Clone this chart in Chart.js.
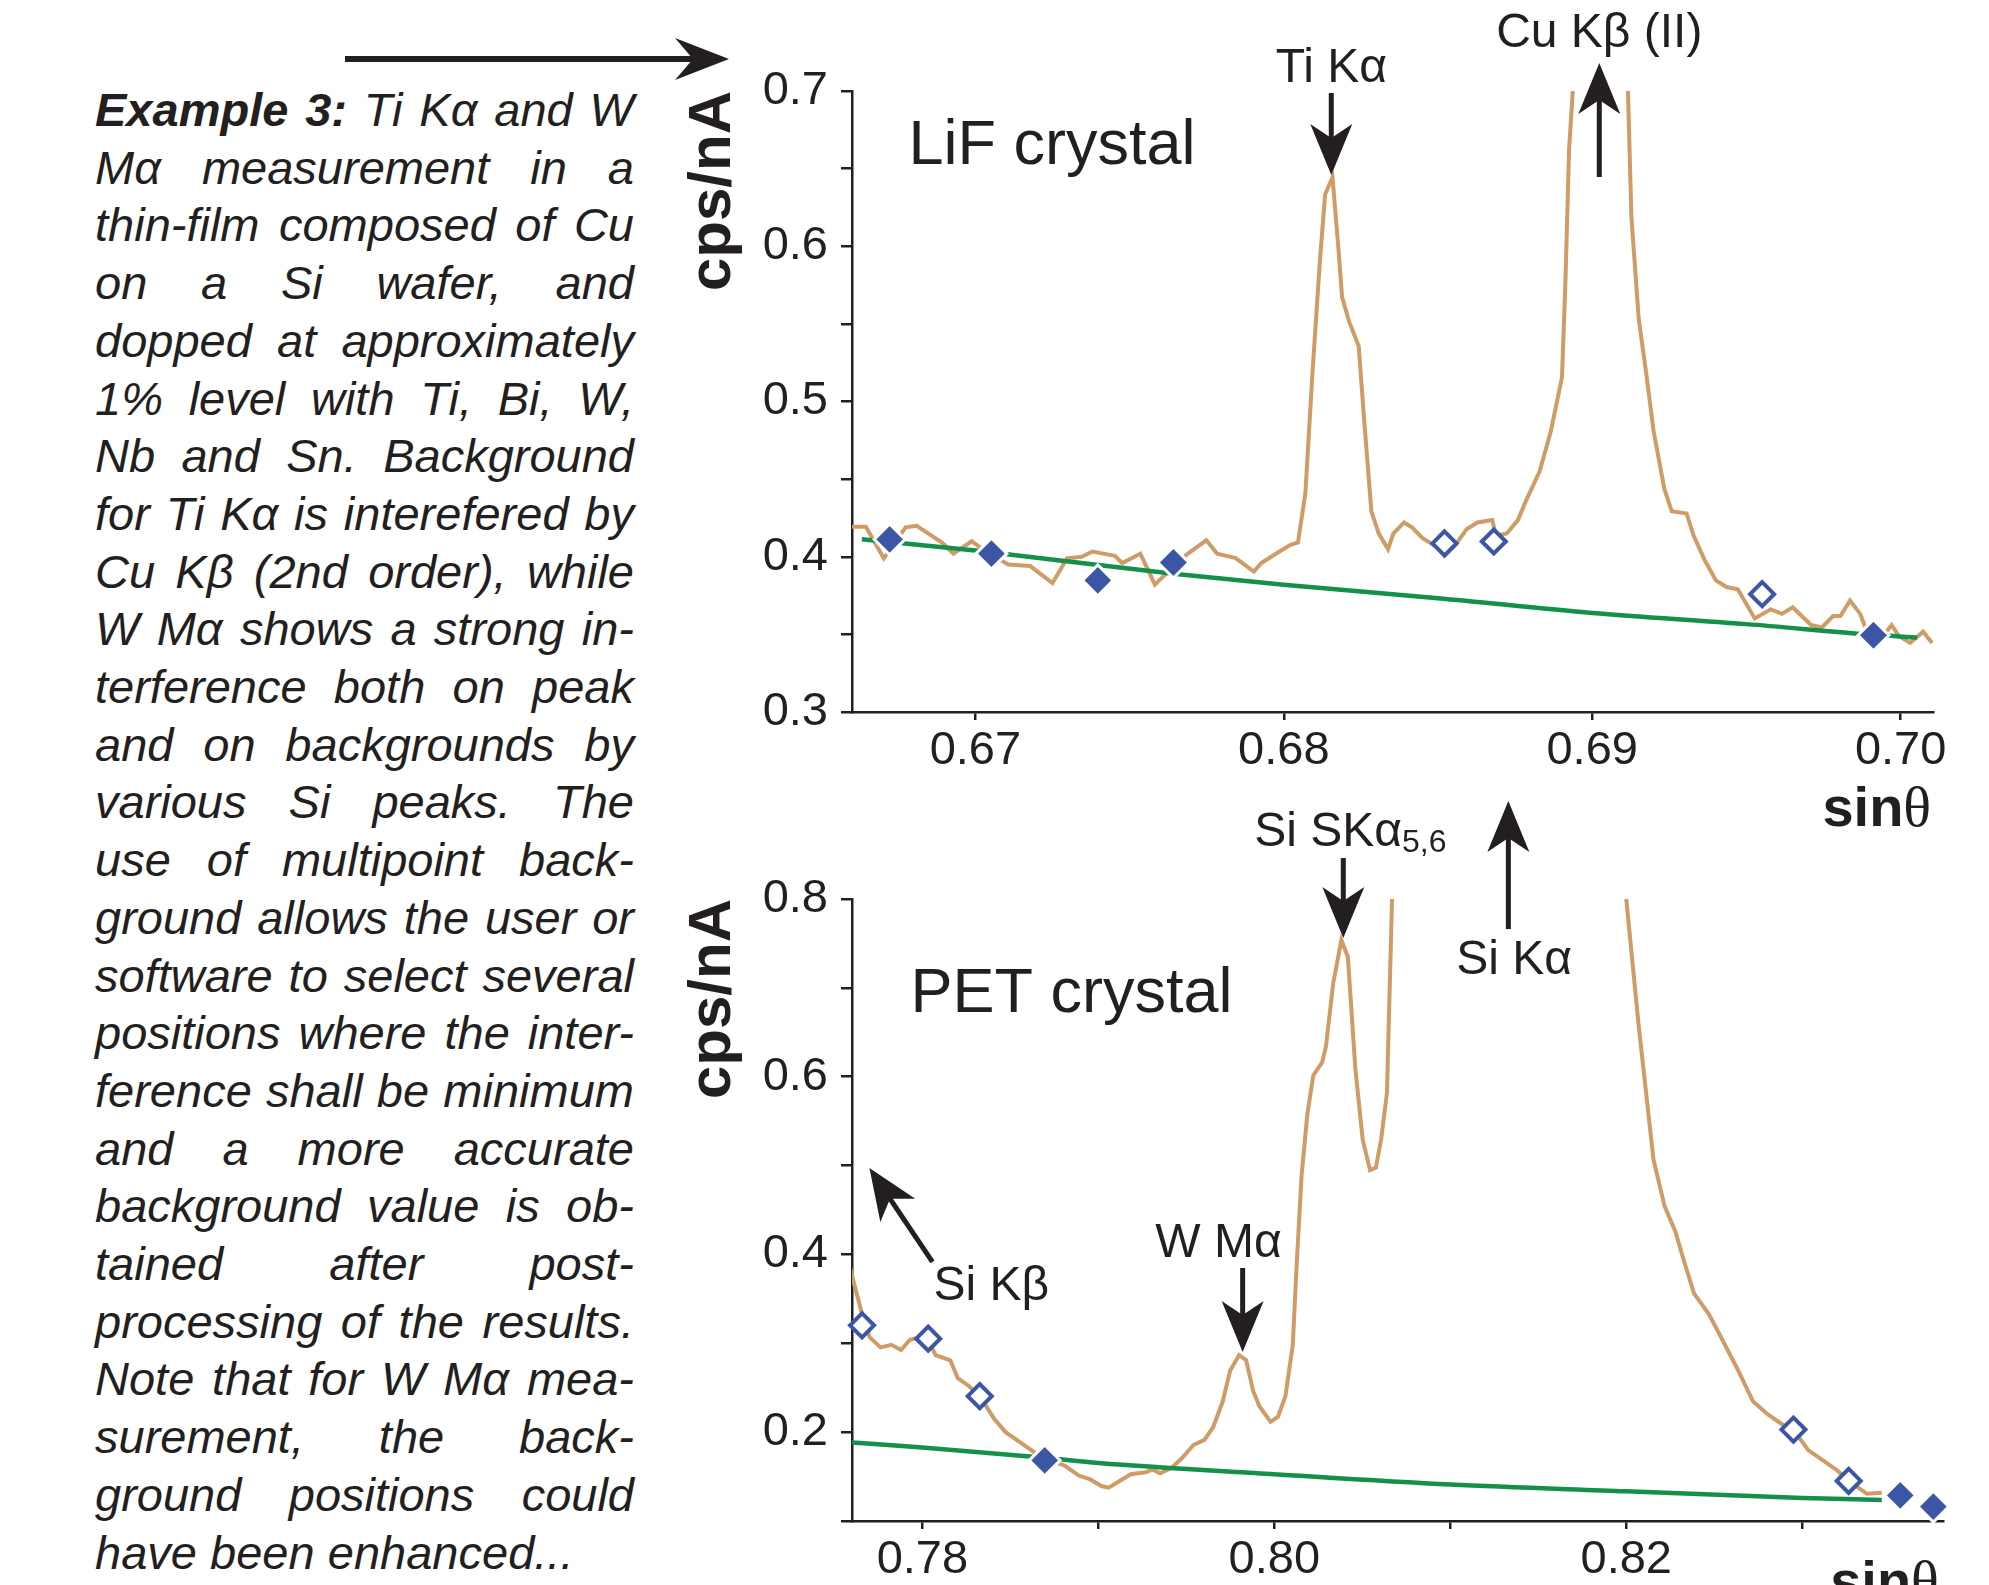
<!DOCTYPE html>
<html>
<head>
<meta charset="utf-8">
<script src="https://cdn.jsdelivr.net/npm/chart.js@4.4.1/dist/chart.umd.min.js"></script>
<style>
  html, body { margin: 0; padding: 0; background: #fff; }
  body { width: 1989px; height: 1585px; position: relative; overflow: hidden; }
  canvas { position: absolute; left: 0; }
  #lif { top: 0; }
  #pet { top: 780px; }
  #note {
    position: absolute; left: 95px; top: 81px; width: 539px;
    font: italic 47px/57.7px 'Liberation Sans', Arial, sans-serif;
    color: #231f20;
  }
  #note .l { display: flex; justify-content: space-between; white-space: nowrap; }
  #note .l.last { justify-content: flex-start; gap: 0.28em; }
  #note b { font-weight: bold; }
  #topArrow { position: absolute; left: 0; top: 0; }
</style>
</head>
<body>
<div id="note"></div>
<svg id="topArrow" width="760" height="100">
  <line x1="345" y1="59" x2="695" y2="59" stroke="#231f20" stroke-width="6"/>
  <polygon points="729,59 675,38 693,59 675,80" fill="#231f20"/>
</svg>
<canvas id="lif" width="1989" height="860"></canvas>
<canvas id="pet" width="1989" height="805"></canvas>
<script>
const INK = '#231f20';
const ORANGE = '#cf9c68';
const GREEN = '#13904a';
const BLUE = '#3c56a6';
const SANS = "'Liberation Sans', Arial, sans-serif";
const SERIF = "'Liberation Serif', 'DejaVu Serif', serif";

// caption on the left
const noteLines = [
  'Example 3: Ti Kα and W',
  'Mα measurement in a',
  'thin-film composed of Cu',
  'on a Si wafer, and',
  'dopped at approximately',
  '1% level with Ti, Bi, W,',
  'Nb and Sn. Background',
  'for Ti Kα is interefered by',
  'Cu Kβ (2nd order), while',
  'W Mα shows a strong in-',
  'terference both on peak',
  'and on backgrounds by',
  'various Si peaks. The',
  'use of multipoint back-',
  'ground allows the user or',
  'software to select several',
  'positions where the inter-',
  'ference shall be minimum',
  'and a more accurate',
  'background value is ob-',
  'tained after post-',
  'processing of the results.',
  'Note that for W Mα mea-',
  'surement, the back-',
  'ground positions could',
  'have been enhanced...'
];

// ---- LiF crystal scan (sinθ vs cps/nA) ----
const lifX = [0.66600, 0.66645, 0.66703, 0.66774, 0.66810, 0.66893, 0.66929, 0.66988, 0.67036, 0.67107,
  0.67178, 0.67250, 0.67297, 0.67345, 0.67380, 0.67452, 0.67476, 0.67535, 0.67582, 0.67618,
  0.67689, 0.67749, 0.67784, 0.67844, 0.67903, 0.67927, 0.67986, 0.68022, 0.68046, 0.68070,
  0.68093, 0.68117, 0.68134, 0.68158, 0.68177, 0.68189, 0.68212, 0.68243, 0.68260, 0.68284,
  0.68308, 0.68338, 0.68355, 0.68390, 0.68414, 0.68450, 0.68497, 0.68521, 0.68557, 0.68593,
  0.68628, 0.68676, 0.68688, 0.68723, 0.68759, 0.68783, 0.68830, 0.68866, 0.68902, 0.68913,
  0.68925, 0.68937, 0.69030, 0.69116, 0.69127, 0.69151, 0.69175, 0.69199, 0.69234, 0.69258,
  0.69306, 0.69329, 0.69365, 0.69401, 0.69436, 0.69472, 0.69527, 0.69579, 0.69615, 0.69650,
  0.69710, 0.69745, 0.69781, 0.69805, 0.69836, 0.69869, 0.69888, 0.69935, 0.69971, 0.69995,
  0.70031, 0.70073, 0.70102];
const lifY = [0.4193, 0.4193, 0.3990, 0.4190, 0.4199, 0.4090, 0.4020, 0.4100, 0.4030, 0.3950,
  0.3940, 0.3830, 0.3990, 0.4000, 0.4034, 0.4006, 0.3960, 0.4020, 0.3820, 0.3890,
  0.4020, 0.4106, 0.4020, 0.3991, 0.3905, 0.3960, 0.4034, 0.4077, 0.4092, 0.4408,
  0.5184, 0.5902, 0.6333, 0.6443, 0.5989, 0.5672, 0.5514, 0.5356, 0.4897, 0.4293,
  0.4149, 0.4049, 0.4149, 0.4221, 0.4192, 0.4120, 0.4063, 0.4006, 0.4078, 0.4178,
  0.4221, 0.4236, 0.4135, 0.4150, 0.4236, 0.4350, 0.4552, 0.4810, 0.5155, 0.5759,
  0.6620, 0.7000, null, 0.7000, 0.6190, 0.5529, 0.5184, 0.4810, 0.4437, 0.4293,
  0.4279, 0.4135, 0.3977, 0.3848, 0.3805, 0.3790, 0.3603, 0.3661, 0.3632, 0.3675,
  0.3560, 0.3545, 0.3618, 0.3618, 0.3718, 0.3632, 0.3532, 0.3470, 0.3560, 0.3488,
  0.3445, 0.3517, 0.3445];
const lifFitX = [0.66632, 0.67000, 0.67642, 0.68000, 0.68500, 0.69000, 0.69500, 0.69912, 0.70054];
const lifFitY = [0.4112, 0.4040, 0.3891, 0.3819, 0.3733, 0.3638, 0.3566, 0.3497, 0.3480];
const lifUsedX = [0.66722, 0.67052, 0.67397, 0.67642, 0.69912];
const lifUsedY = [0.4112, 0.4020, 0.3848, 0.3963, 0.3494];
const lifOpenX = [0.68521, 0.68681, 0.69551];
const lifOpenY = [0.4086, 0.4098, 0.3759];

// ---- PET crystal scan ----
const petX = [0.77582, 0.77615, 0.77657, 0.77700, 0.77762, 0.77824, 0.77879, 0.77929, 0.77992, 0.78033,
  0.78075, 0.78159, 0.78201, 0.78264, 0.78326, 0.78410, 0.78473, 0.78556, 0.78640, 0.78724,
  0.78808, 0.78891, 0.78954, 0.79017, 0.79059, 0.79121, 0.79184, 0.79268, 0.79310, 0.79351,
  0.79414, 0.79477, 0.79540, 0.79603, 0.79653, 0.79707, 0.79749, 0.79800, 0.79840, 0.79880,
  0.79916, 0.79979, 0.80021, 0.80063, 0.80105, 0.80126, 0.80155, 0.80188, 0.80222, 0.80272,
  0.80293, 0.80335, 0.80381, 0.80418, 0.80460, 0.80502, 0.80544, 0.80577, 0.80607, 0.80640,
  0.80669, 0.81300, 0.82000, 0.82071, 0.82155, 0.82218, 0.82280, 0.82322, 0.82385, 0.82469,
  0.82531, 0.82636, 0.82720, 0.82803, 0.82887, 0.82950, 0.83034, 0.83138, 0.83201, 0.83264,
  0.83368, 0.83452];
const petY = [0.3908, 0.3647, 0.3330, 0.3069, 0.2954, 0.2983, 0.2925, 0.3040, 0.3069, 0.3040,
  0.2867, 0.2809, 0.2607, 0.2520, 0.2405, 0.2145, 0.2000, 0.1884, 0.1769, 0.1682,
  0.1624, 0.1509, 0.1468, 0.1393, 0.1376, 0.1451, 0.1526, 0.1549, 0.1578, 0.1538,
  0.1595, 0.1711, 0.1855, 0.1913, 0.2058, 0.2347, 0.2694, 0.2867, 0.2809, 0.2462,
  0.2289, 0.2116, 0.2173, 0.2405, 0.2983, 0.3850, 0.4890, 0.5584, 0.6017, 0.6162,
  0.6335, 0.7058, 0.7538, 0.7347, 0.6104, 0.5295, 0.4948, 0.4977, 0.5295, 0.5815,
  0.8000, null, 0.8000, 0.6566, 0.5064, 0.4543, 0.4254, 0.3965, 0.3561, 0.3330,
  0.3098, 0.2694, 0.2347, 0.2202, 0.2087, 0.2029, 0.1798, 0.1653, 0.1566, 0.1451,
  0.1306, 0.1318];
const petFitX = [0.77594, 0.78000, 0.78695, 0.79000, 0.80000, 0.81000, 0.82000, 0.83000, 0.83452];
const petFitY = [0.1884, 0.1827, 0.1711, 0.1653, 0.1526, 0.1410, 0.1335, 0.1260, 0.1237];
const petUsedX = [0.78695, 0.83557, 0.83745];
const petUsedY = [0.1682, 0.1289, 0.1162];
const petOpenX = [0.77657, 0.78033, 0.78326, 0.82950, 0.83264];
const petOpenY = [0.3202, 0.3052, 0.2405, 0.2029, 0.1451];

function zip(xs, ys) {
  return xs.map((x, i) => ({ x: x, y: ys[i] }));
}

// caption: one flex row per printed line so words spread like justified text
const note = document.getElementById('note');
noteLines.forEach((line, i) => {
  const row = document.createElement('div');
  row.className = 'l' + (i === noteLines.length - 1 ? ' last' : '');
  line.split(' ').forEach((w, k) => {
    const el = document.createElement(i === 0 && k < 2 ? 'b' : 'span');
    el.textContent = w;
    row.appendChild(el);
  });
  note.appendChild(row);
});

function drawArrow(ctx, x1, y1, x2, y2) {
  const ang = Math.atan2(y2 - y1, x2 - x1);
  const len = Math.hypot(x2 - x1, y2 - y1);
  const head = 51, half = 21, notch = 14;
  ctx.save();
  ctx.translate(x2, y2);
  ctx.rotate(ang);
  ctx.lineWidth = 5;
  ctx.beginPath();
  ctx.moveTo(-len, 0);
  ctx.lineTo(-head + notch + 2, 0);
  ctx.stroke();
  ctx.beginPath();
  ctx.moveTo(0, 0);
  ctx.lineTo(-head, -half);
  ctx.lineTo(-head + notch, 0);
  ctx.lineTo(-head, half);
  ctx.closePath();
  ctx.fill();
  ctx.restore();
}

function drawRuns(ctx, runs, x, y, align) {
  let w = 0;
  runs.forEach(r => { ctx.font = r.font; w += ctx.measureText(r.t).width; });
  let cx = align === 'center' ? x - w / 2 : align === 'right' ? x - w : x;
  ctx.textAlign = 'left';
  ctx.textBaseline = 'alphabetic';
  runs.forEach(r => {
    ctx.font = r.font;
    ctx.fillText(r.t, cx, y + (r.dy || 0));
    cx += ctx.measureText(r.t).width;
  });
}

// arrows, peak names, crystal name and axis titles
function notes(arrows, labels) {
  return {
    id: 'notes',
    afterDraw(chart) {
      const { ctx, chartArea } = chart;
      const sx = chart.scales.x, sy = chart.scales.y;
      ctx.save();
      ctx.fillStyle = INK;
      ctx.strokeStyle = INK;
      arrows.forEach(a => drawArrow(ctx,
        sx.getPixelForValue(a.from[0]), sy.getPixelForValue(a.from[1]),
        sx.getPixelForValue(a.to[0]), sy.getPixelForValue(a.to[1])));
      labels.forEach(l => drawRuns(ctx, l.runs,
        sx.getPixelForValue(l.at[0]), sy.getPixelForValue(l.at[1]), l.align));
      // y title, rotated, hanging from the top of the axis
      ctx.translate(chartArea.left - 122, chartArea.top);
      ctx.rotate(-Math.PI / 2);
      ctx.font = 'bold 60px ' + SANS;
      ctx.textAlign = 'right';
      ctx.textBaseline = 'alphabetic';
      ctx.fillText('cps/nA', 0, 0);
      ctx.restore();
    }
  };
}

const LABEL = '48px ' + SANS;
const BIG = '63px ' + SANS;
const sinTheta = [{ t: 'sin', font: 'bold 56px ' + SANS }, { t: 'θ', font: '58px ' + SERIF }];

function makeChart(id, o) {
  const tickFont = { family: SANS, size: 47, lineHeight: 1 };
  return new Chart(document.getElementById(id), {
    type: 'scatter',
    data: {
      datasets: [
        { data: zip(o.usedX, o.usedY), pointStyle: 'rectRot', pointRadius: 15.5, pointHoverRadius: 15.5,
          backgroundColor: BLUE, borderColor: '#fff', borderWidth: 3, clip: false, order: 0 },
        { data: zip(o.openX, o.openY), pointStyle: 'rectRot', pointRadius: 12, pointHoverRadius: 12,
          backgroundColor: '#fff', borderColor: BLUE, borderWidth: 4, clip: false, order: 1 },
        { data: zip(o.fitX, o.fitY), showLine: true, pointRadius: 0, borderColor: GREEN, borderWidth: 4.5,
          cubicInterpolationMode: 'monotone', order: 2 },
        { data: zip(o.scanX, o.scanY), showLine: true, pointRadius: 0, borderColor: ORANGE, borderWidth: 4,
          spanGaps: false, order: 3 }
      ]
    },
    options: {
      responsive: false,
      animation: false,
      events: [],
      layout: { padding: o.padding },
      plugins: { legend: { display: false }, tooltip: { enabled: false } },
      scales: {
        x: {
          type: 'linear', min: o.xMin, max: o.xMax,
          afterFit: s => { s.height = o.xBox; },
          border: { color: INK, width: 2.5 },
          grid: { drawOnChartArea: false, color: INK, lineWidth: 2.5, tickLength: 8 },
          ticks: { stepSize: 0.01, includeBounds: false, autoSkip: false, maxRotation: 0,
            padding: 8, color: INK, font: tickFont, callback: o.xLabel }
        },
        y: {
          type: 'linear', min: o.yMin, max: o.yMax,
          afterFit: s => { s.width = 120; },
          border: { color: INK, width: 2.5 },
          grid: { drawOnChartArea: false, color: INK, lineWidth: 2.5, tickLength: 11 },
          ticks: { stepSize: o.yStep, includeBounds: false, autoSkip: false,
            padding: 13, color: INK, font: tickFont, callback: o.yLabel }
        }
      }
    },
    plugins: [notes(o.arrows, o.labels)]
  });
}

makeChart('lif', {
  scanX: lifX, scanY: lifY, fitX: lifFitX, fitY: lifFitY,
  usedX: lifUsedX, usedY: lifUsedY, openX: lifOpenX, openY: lifOpenY,
  xMin: 0.666, xMax: 0.70105, yMin: 0.3, yMax: 0.7, yStep: 0.05, xBox: 80,
  padding: { left: 732, top: 91, right: 56, bottom: 68 },
  xLabel: v => v.toFixed(2),
  yLabel: v => (Math.round(v * 100) % 10 === 0 ? v.toFixed(1) : ''),
  arrows: [
    { from: [0.68154, 0.6987], to: [0.68154, 0.6459] },
    { from: [0.69023, 0.6446], to: [0.69023, 0.7180] }
  ],
  labels: [
    { at: [0.68154, 0.7058], align: 'center', runs: [{ t: 'Ti Kα', font: LABEL }] },
    { at: [0.69023, 0.7283], align: 'center', runs: [{ t: 'Cu Kβ (II)', font: LABEL }] },
    { at: [0.66783, 0.6530], align: 'left', runs: [{ t: 'LiF crystal', font: BIG }] },
    { at: [0.70099, 0.2266], align: 'right', runs: sinTheta }
  ]
});

makeChart('pet', {
  scanX: petX, scanY: petY, fitX: petFitX, fitY: petFitY,
  usedX: petUsedX, usedY: petUsedY, openX: petOpenX, openY: petOpenY,
  xMin: 0.776, xMax: 0.838, yMin: 0.1, yMax: 0.8, yStep: 0.1, xBox: 60,
  padding: { left: 732, top: 119, right: 46, bottom: 4 },
  xLabel: v => (Math.round(v * 100) % 2 === 0 ? v.toFixed(2) : ''),
  yLabel: v => (Math.round(v * 10) % 2 === 0 ? v.toFixed(1) : ''),
  arrows: [
    { from: [0.80392, 0.8461], to: [0.80392, 0.7561] },
    { from: [0.81330, 0.7662], to: [0.81330, 0.9103] },
    { from: [0.79820, 0.3847], to: [0.79820, 0.2902] },
    { from: [0.78057, 0.3915], to: [0.77699, 0.4973] }
  ],
  labels: [
    { at: [0.79886, 0.8596], align: 'left',
      runs: [{ t: 'Si SKα', font: LABEL }, { t: '5,6', font: '32px ' + SANS, dy: 6 }] },
    { at: [0.81034, 0.7156], align: 'left', runs: [{ t: 'Si Kα', font: LABEL }] },
    { at: [0.79324, 0.3971], align: 'left', runs: [{ t: 'W Mα', font: LABEL }] },
    { at: [0.78063, 0.3487], align: 'left', runs: [{ t: 'Si Kβ', font: LABEL }] },
    { at: [0.77932, 0.6728], align: 'left', runs: [{ t: 'PET crystal', font: BIG }] },
    { at: [0.83159, 0.0111], align: 'left', runs: sinTheta }
  ]
});
</script>
</body>
</html>
